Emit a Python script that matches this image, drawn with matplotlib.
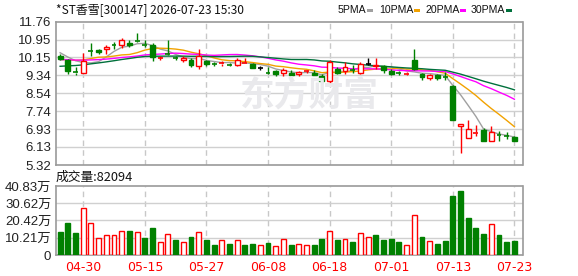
import matplotlib
matplotlib.use("Agg")
import matplotlib.pyplot as plt
from matplotlib.patches import Rectangle
import numpy as np

plt.rcParams['font.family'] = ['Liberation Sans', 'Noto Sans CJK SC', 'DejaVu Sans']

# ---------------- data ----------------
dates = ["04-27", "04-28", "04-29", "04-30", "05-06", "05-07", "05-08", "05-11", "05-12", "05-13",
         "05-14", "05-15", "05-18", "05-19", "05-20", "05-21", "05-22", "05-25", "05-26", "05-27",
         "05-28", "05-29", "06-01", "06-02", "06-03", "06-04", "06-05", "06-08", "06-09", "06-10",
         "06-11", "06-12", "06-15", "06-16", "06-17", "06-18", "06-22", "06-23", "06-24", "06-25",
         "06-26", "06-29", "06-30", "07-01", "07-02", "07-03", "07-06", "07-07", "07-08", "07-09",
         "07-10", "07-13", "07-14", "07-15", "07-16", "07-17", "07-20", "07-21", "07-22", "07-23"]

opens = [10.19, 10.05, 9.49, 9.45, 10.43, 10.46, 10.51, 10.72, 10.69, 10.81,
         10.91, 10.73, 10.69, 10.12, 10.32, 10.13, 10.02, 10.05, 9.76, 10.00,
         9.86, 9.87, 9.83, 9.82, 9.90, 9.87, 9.67, 9.47, 9.52, 9.44,
         9.45, 9.39, 9.52, 9.46, 9.31, 9.09, 9.64, 9.54, 9.60, 9.46,
         9.87, 9.75, 9.75, 9.54, 9.47, 9.41, 10.01, 9.42, 9.24, 9.34,
         9.27, 8.85, 7.09, 6.51, 6.76, 6.89, 6.41, 6.69, 6.64, 6.59]
highs = [10.31, 10.09, 9.72, 10.34, 10.81, 10.54, 10.69, 10.82, 11.03, 10.94,
         11.24, 10.91, 10.79, 10.21, 10.93, 10.22, 10.20, 10.12, 10.52, 10.05,
         9.93, 10.00, 9.90, 10.14, 10.14, 9.88, 9.78, 9.73, 9.57, 9.69,
         9.57, 9.54, 9.60, 9.58, 9.42, 10.05, 9.72, 9.94, 9.82, 9.94,
         10.14, 10.14, 9.81, 9.64, 9.55, 9.51, 10.51, 9.46, 9.42, 9.42,
         9.49, 8.90, 7.18, 7.33, 7.11, 6.96, 7.06, 6.83, 6.80, 6.60]
lows = [10.05, 9.42, 9.34, 9.44, 10.21, 10.28, 10.31, 10.54, 10.58, 10.61,
        10.85, 10.61, 9.99, 10.05, 10.25, 10.05, 9.93, 9.72, 9.62, 9.78,
        9.76, 9.76, 9.75, 9.75, 9.88, 9.68, 9.57, 9.40, 9.32, 9.30,
        9.34, 9.30, 9.45, 9.35, 9.02, 8.97, 9.39, 9.42, 9.46, 9.42,
        9.79, 9.64, 9.45, 9.35, 9.38, 9.34, 9.58, 9.15, 9.12, 9.15,
        9.15, 7.33, 5.87, 6.51, 6.62, 6.41, 6.41, 6.41, 6.47, 6.41]
closes = [10.09, 9.54, 9.47, 9.99, 10.42, 10.37, 10.61, 10.70, 10.91, 10.70,
          10.89, 10.70, 10.18, 10.14, 10.29, 10.10, 10.13, 9.79, 10.20, 9.86,
          9.84, 9.89, 9.81, 10.05, 9.92, 9.69, 9.67, 9.45, 9.42, 9.57,
          9.36, 9.49, 9.53, 9.36, 9.09, 9.94, 9.45, 9.72, 9.58, 9.87,
          9.87, 9.82, 9.57, 9.42, 9.46, 9.43, 9.61, 9.27, 9.34, 9.24,
          9.25, 7.36, 7.18, 6.93, 6.78, 6.41, 6.78, 6.66, 6.62, 6.41]

# closes before the visible window (estimated from where the MA lines start)
prior_closes = [8.95, 9.02, 9.10, 9.05, 9.12, 9.20, 9.18, 9.25, 9.30, 9.33,
                9.60, 9.85, 10.05, 10.20, 10.10, 10.15, 10.05, 10.10, 10.15, 10.15,
                9.70, 9.75, 9.80, 9.78, 9.78, 10.50, 10.30, 10.40, 10.50]

# volume in 万 shares, and direction (1 = up/red, 0 = down/green)
volumes = [13.7, 19.0, 13.2, 27.7, 18.8, 10.0, 11.8, 11.8, 14.1, 14.3,
           13.5, 10.2, 16.1, 7.7, 12.4, 9.0, 7.7, 10.8, 13.5, 9.0,
           6.1, 8.8, 6.7, 8.8, 6.1, 6.7, 5.9, 7.3, 5.3, 9.4,
           6.1, 6.5, 5.9, 6.1, 9.4, 14.1, 9.0, 9.4, 7.9, 13.0,
           10.6, 12.0, 9.0, 9.6, 7.9, 5.9, 23.6, 10.8, 8.2, 6.7,
           8.4, 34.9, 37.9, 22.0, 16.1, 12.6, 18.5, 12.0, 7.9, 8.21]
vol_up = [0, 0, 0, 1, 1, 1, 1, 1, 1, 0,
          1, 0, 0, 1, 1, 0, 1, 0, 1, 0,
          0, 1, 0, 1, 0, 0, 1, 0, 1, 1,
          0, 1, 1, 0, 0, 1, 0, 1, 0, 1,
          1, 0, 0, 0, 0, 1, 1, 0, 1, 0,
          0, 0, 0, 0, 0, 0, 1, 0, 0, 0]

price_ticks = [5.32, 6.13, 6.93, 7.74, 8.54, 9.34, 10.15, 10.95, 11.76]
vol_ticks = [0, 10.21, 20.42, 30.62, 40.83]
vol_tick_labels = ["0", "10.21万", "20.42万", "30.62万", "40.83万"]
date_tick_idx = [3, 11, 19, 27, 35, 43, 51, 59]

ma_periods = [5, 10, 20, 30]
ma_names = ["5PMA", "10PMA", "20PMA", "30PMA"]
ma_colors = ["#a0a0a0", "#f2a200", "#ff00ff", "#00703c"]

title = "*ST香雪[300147] 2026-07-23 15:30"
vol_title = "成交量:82094"

RED = "#ff0000"
GREEN = "#008000"

# ---------------- figure ----------------
W, H = 578, 276
fig = plt.figure(figsize=(W / 100, H / 100), dpi=100)


def rect(l, t, r, b):
    return [l / W, 1 - b / H, (r - l) / W, (b - t) / H]


ax = fig.add_axes(rect(55.5, 21.5, 522.5, 165))
axv = fig.add_axes(rect(55.5, 186, 522.5, 255))

n = len(closes)
x = np.arange(n)
XL = (-0.6, 60.05)
bw = 0.64

# watermark
fig.text(309 / W, 1 - 95 / H, "东方财富", family=['Noto Sans CJK SC'], fontsize=25,
         fontweight='bold', color='#e9e9ec', ha='center', va='center', zorder=0)

for a in (ax, axv):
    a.set_xlim(*XL)
    a.set_facecolor('none')
    for s in a.spines.values():
        s.set_color('#9a9a9a')
        s.set_linewidth(1.2)
    a.tick_params(length=0)
    for i in date_tick_idx:
        a.axvline(i, color='#c8c8c8', lw=1.0, ls=(0, (4, 3)), zorder=0)

# price panel
ax.set_ylim(price_ticks[0], price_ticks[-1])
ax.set_yticks(price_ticks)
ax.set_yticklabels([f"{v:.2f}" for v in price_ticks], fontsize=9.5, color='#222222')
ax.tick_params(axis='y', pad=3)
ax.set_xticks([])
for v in price_ticks[1:-1]:
    ax.axhline(v, color='#d0d0d0', lw=1.0, zorder=0)

# moving averages
allc = np.array(prior_closes + closes)
for p, c in zip(ma_periods, ma_colors):
    ma = np.convolve(allc, np.ones(p) / p, mode='valid')[-n:]
    ax.plot(x, ma, color=c, lw=1.0, zorder=2)

# candles
for i in range(n):
    o, h, l, c = opens[i], highs[i], lows[i], closes[i]
    if c > o:
        col = RED
    elif c < o:
        col = GREEN
    else:
        col = "#000000"
    top, bot = max(o, c), min(o, c)
    ax.vlines(i, top, h, color=col, lw=1.0, zorder=3)
    ax.vlines(i, l, bot, color=col, lw=1.0, zorder=3)
    if top - bot < 0.04:
        ax.hlines((top + bot) / 2, i - bw / 2, i + bw / 2, color=col, lw=1.2, zorder=4)
    else:
        fc = 'white' if c > o else col
        ax.add_patch(Rectangle((i - bw / 2, bot), bw, top - bot, facecolor=fc,
                               edgecolor=col, lw=1.0, zorder=4))

# volume panel
axv.set_ylim(vol_ticks[0], vol_ticks[-1])
axv.set_yticks(vol_ticks)
axv.set_yticklabels(vol_tick_labels, fontsize=9.5, color='#222222')
axv.tick_params(axis='y', pad=3)
for v in vol_ticks[1:-1]:
    axv.axhline(v, color='#d0d0d0', lw=1.0, zorder=0)
fcs = ['white' if u else GREEN for u in vol_up]
ecs = [RED if u else GREEN for u in vol_up]
axv.bar(x, volumes, width=bw, color=fcs, edgecolor=ecs, linewidth=1.0, zorder=3)
axv.set_xticks(date_tick_idx)
axv.set_xticklabels([dates[i] for i in date_tick_idx], fontsize=9, color=RED,
                    family=['DejaVu Sans'])
axv.tick_params(axis='x', pad=4)

# texts
fig.text(56 / W, 1 - 10 / H, title, fontsize=8.6, color='#111111', va='center',
         family=['Noto Sans CJK SC', 'DejaVu Sans'])
fig.text(56 / W, 1 - 177 / H, vol_title, fontsize=9.2, color='#111111', va='center',
         family=['Noto Sans CJK SC', 'DejaVu Sans'])

# legend
lx = [338, 379, 425, 471]
sx = [367, 414, 460, 506]
for name, c, tx, qx in zip(ma_names, ma_colors, lx, sx):
    fig.text(tx / W, 1 - 10 / H, name, fontsize=7.6, color='#111111', va='center',
             family=['Liberation Sans'])
    fig.add_artist(Rectangle((qx / W, 1 - 12 / H), 6 / W, 3 / H, facecolor=c,
                             edgecolor='none', transform=fig.transFigure))

fig.savefig("out.png", dpi=100)
